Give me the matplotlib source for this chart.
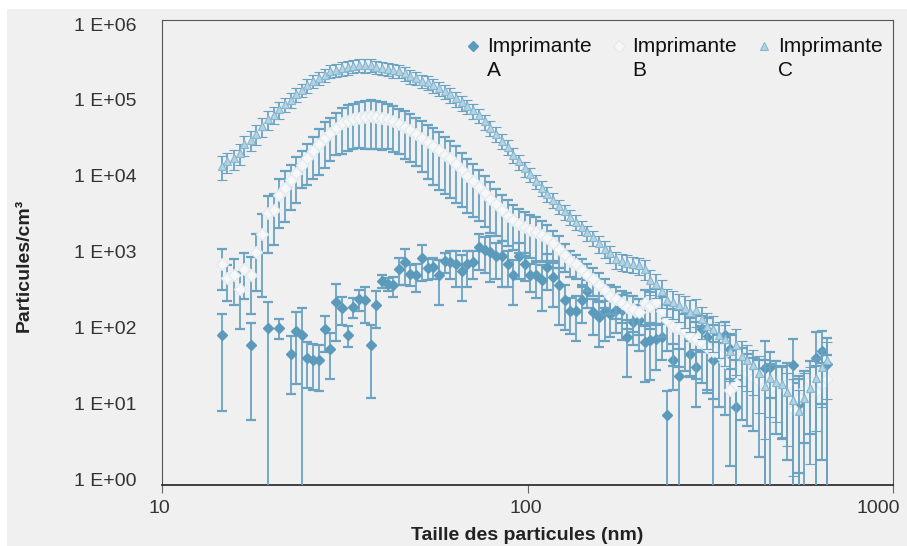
import numpy as np
from matplotlib import pyplot as plt
from matplotlib.patches import Rectangle
from matplotlib.legend_handler import HandlerLine2D
from matplotlib.ticker import NullLocator
from matplotlib.transforms import ScaledTranslation

nan = np.nan

# SMPS channel mid-points (nm)
diam = [14.6, 15.1, 15.7, 16.3, 16.8, 17.5, 18.1, 18.8, 19.5, 20.2,
        20.9, 21.7, 22.5, 23.3, 24.1, 25.0, 25.9, 26.9, 27.9, 28.9,
        30.0, 31.1, 32.2, 33.4, 34.6, 35.9, 37.2, 38.5, 40.0, 41.4,
        42.9, 44.5, 46.1, 47.8, 49.6, 51.4, 53.3, 55.2, 57.3, 59.4,
        61.5, 63.8, 66.1, 68.5, 71.0, 73.7, 76.4, 79.1, 82.0, 85.1,
        88.2, 91.4, 94.7, 98.2, 101.8, 105.5, 109.4, 113.4, 117.6, 121.9,
        126.3, 131.0, 135.8, 140.7, 145.9, 151.2, 156.8, 162.5, 168.5, 174.7,
        181.1, 187.7, 194.6, 201.7, 209.1, 216.7, 224.7, 232.9, 241.4, 250.3,
        259.5, 269.0, 278.8, 289.0, 299.6, 310.6, 322.0, 333.8, 346.0, 358.7,
        371.8, 385.4, 399.5, 414.2, 429.4, 445.1, 461.4, 478.3, 495.8, 514.0,
        532.8, 552.3, 572.5, 593.5, 615.3, 637.8, 661.2]

# Imprimante A (particules/cm3) and relative error
imp_a = [80, nan, nan, nan, nan, 60, nan, nan, 100, nan,
         100, nan, 45, 90, 80, 40, 38, 37, 95, 53,
         220, 180, 80, 190, 240, 230, 60, 200, 415, 380,
         360, 600, 730, 510, 490, 820, 610, 630, 490, 750,
         730, 690, 560, 690, 730, 1150, 1050, 1000, 870, 870,
         690, 490, 870, 690, 490, 490, 420, 630, 470, 360,
         230, 165, 165, 230, 300, 160, 140, 165, 150, 170,
         170, 75, 120, 125, 64, 68, 70, 75, 7, 38,
         23, nan, 45, 30, 95, 75, 38, nan, 80, 52,
         9, nan, nan, nan, nan, 29, 30, nan, nan, nan,
         32, 10, nan, nan, 40, 50, 33]
err_a = [0.9, 0, 0, 0, 0, 0.9, 0, 0, 1.2, 0,
         0.3, 0, 0.7, 0.8, 1.3, 0.6, 0.6, 0.6, 0.5, 0.6,
         0.7, 0.4, 0.3, 0.3, 0.3, 0.5, 0.8, 0.5, 0.2, 0.2,
         0.3, 0.4, 0.5, 0.3, 0.4, 0.5, 0.3, 0.3, 0.6, 0.3,
         0.4, 0.5, 0.6, 0.5, 0.4, 0.5, 0.5, 0.6, 0.5, 0.6,
         0.5, 0.6, 0.5, 0.4, 0.4, 0.5, 0.6, 0.5, 0.6, 0.7,
         0.6, 0.5, 0.6, 0.5, 0.4, 0.5, 0.6, 0.6, 0.5, 0.5,
         0.6, 0.7, 0.5, 0.6, 0.7, 0.7, 0.6, 0.5, 1.1, 0.6,
         1.3, 0, 0.5, 0.7, 0.5, 0.8, 0.7, 0, 0.5, 0.6,
         1.3, 0, 0, 0, 0, 1.3, 0.6, 0, 0, 0,
         1.2, 1.1, 0, 0, 1.2, 0.8, 1.2]

# Imprimante B
imp_b = [700, 450, 500, 320, 600, 500, 1000, 1700, 3200, 3500,
         5600, 7000, 8800, 11000, 14000, 17000, 21000, 26000, 32000, 37000,
         43000, 49000, 53000, 56000, 58000, 60000, 61000, 60000, 58000, 56000,
         52000, 48000, 44000, 40000, 36000, 32000, 28000, 25000, 22000, 19000,
         17000, 14500, 12000, 10000, 8500, 7200, 6000, 5000, 4200, 3500,
         3000, 2600, 2300, 2100, 1950, 1800, 1650, 1500, 1300, 1100,
         900, 750, 680, 580, 500, 440, 370, 310, 260, 240,
         210, 190, 175, 160, 210, 195, 215, 165, 125, 105,
         100, 90, 78, 70, 62, 55, 50, 45, 35, 15,
         18, 30, 25, 22, 20, 17, 16, 20, 17, 18,
         8.5, 12, 15, 20, 14, 18, 21]
err_b = [0.55, 0.5, 0.6, 0.7, 0.6, 0.7, 0.7, 0.85, 0.7, 0.65,
         0.63, 0.65, 0.6, 0.6, 0.5, 0.55, 0.57, 0.6, 0.6, 0.58,
         0.56, 0.6, 0.6, 0.6, 0.6, 0.62, 0.63, 0.62, 0.62, 0.6,
         0.6, 0.6, 0.62, 0.62, 0.63, 0.65, 0.68, 0.7, 0.7, 0.7,
         0.7, 0.7, 0.68, 0.68, 0.66, 0.65, 0.65, 0.65, 0.62, 0.6,
         0.6, 0.6, 0.58, 0.58, 0.58, 0.58, 0.55, 0.5, 0.45, 0.45,
         0.4, 0.38, 0.35, 0.38, 0.4, 0.4, 0.42, 0.42, 0.42, 0.45,
         0.45, 0.5, 0.5, 0.5, 0.5, 0.5, 0.5, 0.55, 0.6, 0.7,
         0.7, 0.7, 0.7, 0.7, 0.7, 0.75, 1.2, 0.8, 0.8, 0.9,
         1.1, 0.8, 0.8, 0.8, 0.9, 1.2, 1.1, 0.8, 0.8, 0.9,
         1.2, 0.9, 0.8, 0.8, 1.2, 0.9, 1.1]

# Imprimante C
imp_c = [13500, 15500, 17000, 20000, 26000, 30000, 36000, 45000, 56000, 64000,
         75000, 88000, 100000, 118000, 135000, 155000, 180000, 195000, 215000, 240000,
         250000, 262000, 270000, 280000, 290000, 285000, 290000, 275000, 265000, 255000,
         245000, 240000, 225000, 205000, 195000, 180000, 170000, 155000, 142000, 130000,
         118000, 105000, 93000, 83000, 73000, 63000, 52000, 43000, 36000, 29000,
         24000, 19000, 15500, 12500, 10500, 8500, 7000, 5800, 4800, 4000,
         3400, 2900, 2500, 2100, 1800, 1550, 1300, 1100, 950, 800,
         750, 720, 690, 660, 600, 420, 380, 300, 230, 220,
         200, 180, 160, 170, 130, 105, 95, 80, 70, 50,
         60, 42, 37, 32, 25, 17, 22, 19, 18, 14,
         11, 8, 12, 16, 22, 30, 38]
err_c = [0.35, 0.3, 0.3, 0.3, 0.3, 0.3, 0.3, 0.28, 0.28, 0.25,
         0.25, 0.22, 0.22, 0.2, 0.2, 0.2, 0.2, 0.2, 0.2, 0.2,
         0.2, 0.2, 0.2, 0.2, 0.2, 0.2, 0.2, 0.2, 0.2, 0.2,
         0.2, 0.2, 0.2, 0.2, 0.2, 0.2, 0.2, 0.2, 0.2, 0.2,
         0.22, 0.22, 0.22, 0.22, 0.22, 0.22, 0.22, 0.22, 0.22, 0.22,
         0.22, 0.22, 0.22, 0.22, 0.22, 0.22, 0.22, 0.22, 0.22, 0.22,
         0.22, 0.22, 0.22, 0.22, 0.22, 0.22, 0.25, 0.25, 0.25, 0.25,
         0.25, 0.25, 0.25, 0.25, 0.3, 0.35, 0.35, 0.4, 0.4, 0.4,
         0.4, 0.45, 0.45, 0.4, 0.45, 0.5, 0.5, 0.5, 0.55, 0.6,
         0.6, 0.6, 0.6, 0.6, 0.7, 0.8, 0.7, 0.7, 0.8, 0.8,
         0.9, 0.9, 1.1, 0.9, 0.8, 0.7, 0.7]

labels = ["Imprimante\nA", "Imprimante\nB", "Imprimante\nC"]
ytick_vals = [1, 10, 100, 1000, 1e4, 1e5, 1e6]
ytick_labels = ["1 E+00", "1 E+01", "1 E+02", "1 E+03", "1 E+04", "1 E+05", "1 E+06"]
xtick_vals = [10, 100, 1000]
xtick_labels = ["10", "100", "1000"]

plt.rcParams['font.family'] = ['Liberation Sans', 'DejaVu Sans']

bg = '#f0f0f0'
bar_col = '#6aa3c2'

fig = plt.figure(figsize=(9.07, 5.46), dpi=100, facecolor='white')
fig.patches.append(Rectangle((7 / 907, 0), 1, 1 - 9 / 546, transform=fig.transFigure,
                             facecolor=bg, edgecolor='none', zorder=-10))
ax = fig.add_axes([162 / 907, 61 / 546, 731 / 907, 465 / 546])
ax.set_facecolor(bg)


def draw(vals, rel, **kw):
    v = np.array(vals, dtype=float)
    e = v * np.array(rel, dtype=float)
    return ax.errorbar(diam, v, yerr=e, ecolor=bar_col, elinewidth=1.3,
                       capsize=3.5, capthick=1.6, lw=0, **kw)


h_a = draw(imp_a, err_a, fmt='D', ms=5, mfc='#5b9aba', mec='#5b9aba', zorder=3)
h_b = draw(imp_b, err_b, fmt='D', ms=6, mfc='#f7f7f7', mec='#e2ebf0', zorder=4)
h_c = draw(imp_c, err_c, fmt='^', ms=6, mfc='#b3d2e3', mec='#86b7d0', mew=0.8, zorder=5)

ax.set_xscale('log')
ax.set_yscale('log', nonpositive='clip')
ax.set_xlim(10, 1000)
ax.set_ylim(0.846, 1.13e6)

ax.set_xticks(xtick_vals, xtick_labels)
ax.set_yticks(ytick_vals, ytick_labels)
ax.xaxis.set_minor_locator(NullLocator())
ax.yaxis.set_minor_locator(NullLocator())
ax.tick_params(axis='x', length=6, width=0.8, color='#666666', pad=5,
               labelsize=14, labelcolor='#333333')
ax.tick_params(axis='y', length=0, pad=18, labelsize=14, labelcolor='#333333')

# Excel pulls the end labels inside the frame
xlabs = ax.get_xticklabels()
xlabs[0].set_transform(xlabs[0].get_transform() + ScaledTranslation(-0.03, 0, fig.dpi_scale_trans))
xlabs[1].set_transform(xlabs[1].get_transform() + ScaledTranslation(-0.02, 0, fig.dpi_scale_trans))
xlabs[2].set_transform(xlabs[2].get_transform() + ScaledTranslation(-0.15, 0, fig.dpi_scale_trans))

for s in ['left', 'top', 'right']:
    ax.spines[s].set_color('#555555')
    ax.spines[s].set_linewidth(0.8)
ax.spines['bottom'].set_color('#222222')
ax.spines['bottom'].set_linewidth(1.2)

fig.text(527 / 907, 1 - 535 / 546, "Taille des particules (nm)", ha='center', va='center',
         fontsize=14, fontweight='bold', color='#222222')
fig.text(24 / 907, 1 - 265 / 546, "Particules/cm³", ha='center', va='center',
         rotation=90, fontsize=14, fontweight='bold', color='#222222')


class TopHandler(HandlerLine2D):
    # put the marker beside the first line of a two-line label
    def create_artists(self, legend, orig_handle, xdescent, ydescent, width,
                       height, fontsize, trans):
        arts = super().create_artists(legend, orig_handle, xdescent, ydescent,
                                      width, height, fontsize, trans)
        for a in arts:
            a.set_ydata(np.asarray(a.get_ydata(), dtype=float) + 0.6 * fontsize)
        return arts


leg = ax.legend([h_a[0], h_b[0], h_c[0]], labels, ncol=3, frameon=False,
                loc='upper left', bbox_to_anchor=(0.414, 0.9634),
                borderaxespad=0, borderpad=0, fontsize=15,
                handlelength=0.8, handletextpad=0.27, columnspacing=0.9,
                handler_map={h_a[0]: TopHandler(), h_b[0]: TopHandler(),
                             h_c[0]: TopHandler()})
for t in leg.get_texts():
    t.set_linespacing(1.35)
    t.set_color('#111111')

fig.savefig("out.png", dpi=100, facecolor='white')
